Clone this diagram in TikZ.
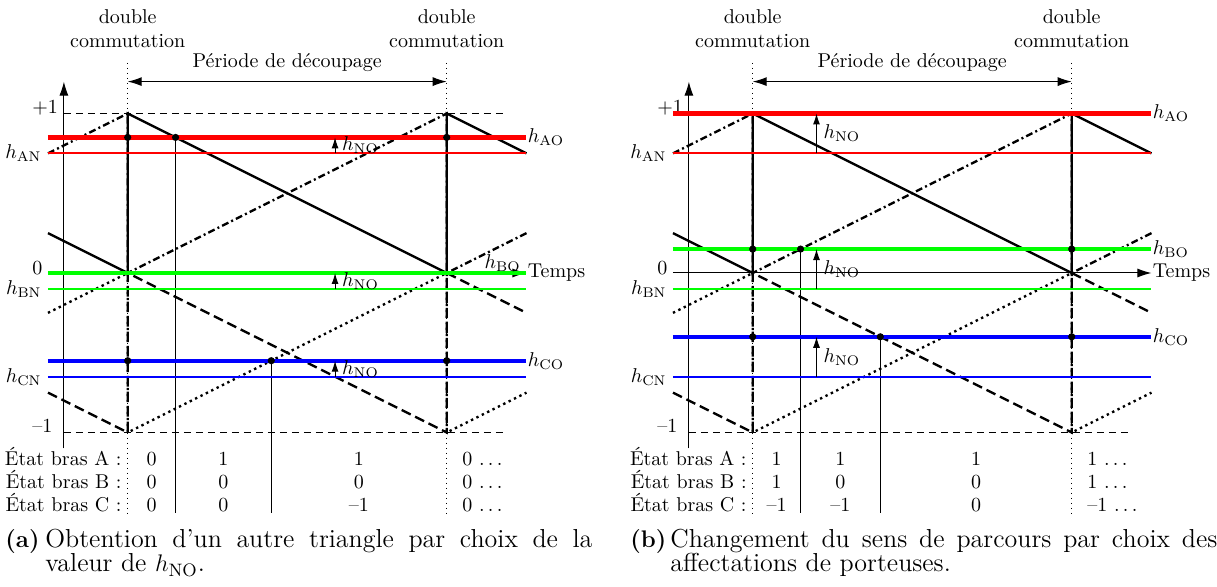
\documentclass[tikz,border=0pt]{standalone}
\usepackage{amsmath}
\usepackage{tikz}
\usetikzlibrary{arrows.meta, positioning}

\begin{document}
\begin{tikzpicture}[
	x=0.5pt, y=-0.5pt,
	font=\fontsize{10}{12}\selectfont,
	axe/.style={line width=0.5pt, -{Latex[length=7pt, width=4.5pt]}},
	periode/.style={line width=0.5pt, {Latex[length=7pt, width=4.5pt]}-{Latex[length=7pt, width=4.5pt]}},
	borne/.style={line width=0.5pt, dash pattern=on 3.5pt off 2.5pt},
	commut/.style={line width=0.5pt, dotted},
	trait_etat/.style={line width=0.5pt},
	porteuse/.style={line width=1.2pt},
	p_tiret/.style={porteuse, dash pattern=on 5pt off 2.5pt},
	p_mixte/.style={porteuse, dash pattern=on 3.5pt off 1.6pt on 1pt off 1.6pt},
	p_point/.style={porteuse, dash pattern=on 1.2pt off 1.8pt},
	niv_O/.style={line width=2.2pt},
	niv_N/.style={line width=1pt},
	hno/.style={line width=0.5pt, -{Latex[length=5.5pt, width=3.5pt]}},
	jonction/.style={circle, fill, inner sep=0pt, minimum size=3.6pt},
	lbl_g/.style={inner sep=3pt},
	lbl_d/.style={inner sep=0.5pt},
	graduation/.style={anchor=base west, inner sep=0pt},
	etat/.style={anchor=base east, inner sep=0pt},
	valeur/.style={anchor=base, inner sep=0pt},
	suite/.style={anchor=base west, inner sep=0pt},
	legende/.style={font=\fontsize{13}{15}\selectfont, anchor=base west, inner sep=0pt},
	sous_fig/.style={font=\fontsize{12}{14}\selectfont\bfseries, anchor=base west, inner sep=0pt}
	]
	\useasboundingbox (0,0) rectangle (1217,587);

	% ================= (a) =================
	\begin{scope}[shift={(127.7,273)}, x=159.5pt, y=79.75pt]
	% --- AXES ET BORNES ---
	\draw[axe] (-0.2,-1.1) -- (-0.2,1.2);
	\draw[axe] (-0.25,0) -- (1.25,0) coordinate (aT);
	\draw[borne] (-0.2,1) -- (1.175,1);
	\draw[borne] (-0.2,-1) -- (1.175,-1);
	\node[graduation] (aP) at (-0.3,1) {+1};
	\node[graduation] (aZ) at (-0.3,-0.0125) {0};
	\node[graduation] (aM) at (-0.3,-1) {--1};
	\node[lbl_d, right=0pt of aT] (aTemps) {Temps};

	% --- DOUBLES COMMUTATIONS ---
	\draw[commut] (0,1.317) -- (0,-1.505);
	\draw[commut] (1,1.317) -- (1,-1.505);
	\node[align=center, anchor=south, inner sep=0pt] (aDC1) at (0,1.413) {double\\commutation};
	\node[align=center, anchor=south, inner sep=0pt] (aDC2) at (1,1.413) {double\\commutation};
	\draw[periode] (0,1.2) -- (1,1.2);
	\node[anchor=base, inner sep=0pt] (aPer) at (0.5,1.29) {Période de découpage};

	% --- PORTEUSES ---
	\draw[porteuse] (-0.25,0.25) -- (0,0) -- (0,1) -- (1,0) -- (1,1) -- (1.25,0.75);
	\draw[p_mixte] (-0.25,0.75) -- (0,1) -- (0,0) -- (1,1) -- (1,0) -- (1.25,0.25);
	\draw[p_tiret] (-0.25,-0.75) -- (0,-1) -- (0,0) -- (1,-1) -- (1,0) -- (1.25,-0.25);
	\draw[p_point] (-0.25,-0.25) -- (0,0) -- (0,-1) -- (1,0) -- (1,-1) -- (1.25,-0.75);

	% --- COMMUTATIONS DES BRAS ---
	\coordinate (aI1) at (0,0.85); \coordinate (aI2) at (0.15,0.85); \coordinate (aI3) at (1,0.85);
	\coordinate (aI4) at (0,-0.55); \coordinate (aI5) at (0.45,-0.55); \coordinate (aI6) at (1,-0.55);
	\draw[trait_etat] (aI2) -- (0.15,-1.505);
	\draw[trait_etat] (aI5) -- (0.45,-1.505);

	% --- MODULANTES ---
	\draw[niv_O, red] (-0.25,0.85) -- (1.25,0.85) coordinate (aAO);
	\draw[niv_N, red] (-0.25,0.75) coordinate (aAN) -- (1.25,0.75);
	\draw[niv_O, green] (-0.25,0) -- (1.25,0) coordinate (aBO);
	\draw[niv_N, green] (-0.25,-0.1) coordinate (aBN) -- (1.25,-0.1);
	\draw[niv_O, blue] (-0.25,-0.55) -- (1.25,-0.55) coordinate (aCO);
	\draw[niv_N, blue] (-0.25,-0.65) coordinate (aCN) -- (1.25,-0.65);
	\node[lbl_d, right=0pt of aAO] (aLAO) {$h_{\mathrm{AO}}$};
	\node[lbl_g, left=0pt of aAN] (aLAN) {$h_{\mathrm{AN}}$};
	\node[lbl_d, anchor=south east] (aLBO) at (1.236,0) {$h_{\mathrm{BO}}$};
	\node[lbl_g, left=0pt of aBN] (aLBN) {$h_{\mathrm{BN}}$};
	\node[lbl_d, right=0pt of aCO] (aLCO) {$h_{\mathrm{CO}}$};
	\node[lbl_g, left=0pt of aCN] (aLCN) {$h_{\mathrm{CN}}$};
	\draw[hno] (0.65,0.75) -- node[right] (aNO1) {$h_{\mathrm{NO}}$} (0.65,0.85);
	\draw[hno] (0.65,-0.1) -- node[right] (aNO2) {$h_{\mathrm{NO}}$} (0.65,0);
	\draw[hno] (0.65,-0.65) -- node[right] (aNO3) {$h_{\mathrm{NO}}$} (0.65,-0.55);
	\foreach \i in {1,...,6} \node[jonction] (aD\i) at (aI\i) {};

	% --- ÉTATS DES BRAS ---
	\node[etat] (aEA) at (-0.018,-1.2056) {État bras A :};
	\node[etat] (aEB) at (-0.018,-1.3498) {État bras B :};
	\node[etat] (aEC) at (-0.018,-1.494) {État bras C :};
	\node[valeur] (aA1) at (0.075,-1.2056) {0}; \node[valeur] (aA2) at (0.3,-1.2056) {1};
	\node[valeur] (aA3) at (0.725,-1.2056) {1}; \node[suite] (aA4) at (1.048,-1.2056) {0 $\ldots$};
	\node[valeur] (aB1) at (0.075,-1.3498) {0}; \node[valeur] (aB2) at (0.3,-1.3498) {0};
	\node[valeur] (aB3) at (0.725,-1.3498) {0}; \node[suite] (aB4) at (1.048,-1.3498) {0 $\ldots$};
	\node[valeur] (aC1) at (0.075,-1.494) {0}; \node[valeur] (aC2) at (0.3,-1.494) {0};
	\node[valeur] (aC3) at (0.725,-1.494) {--1}; \node[suite] (aC4) at (1.048,-1.494) {0 $\ldots$};

	% --- LÉGENDE ---
	\node[sous_fig] (aCapL) at (-0.3846,-1.7179) {(a)};
	\node[legende] (aCap1) at (-0.2593,-1.7179) {\makebox[273.5pt][s]{Obtention d'un autre triangle par choix de la}};
	\node[legende] (aCap2) at (-0.2593,-1.8746) {valeur de $h_{\mathrm{NO}}$.};
	\end{scope}

	% ================= (b) =================
	\begin{scope}[shift={(752.7,273)}, x=159.5pt, y=79.75pt]
	% --- AXES ET BORNES ---
	\draw[axe] (-0.2,-1.1) -- (-0.2,1.2);
	\draw[axe] (-0.25,0) -- (1.25,0) coordinate (bT);
	\draw[borne] (-0.2,1) -- (1.175,1);
	\draw[borne] (-0.2,-1) -- (1.175,-1);
	\node[graduation] (bP) at (-0.3,1) {+1};
	\node[graduation] (bZ) at (-0.3,-0.0125) {0};
	\node[graduation] (bM) at (-0.3,-1) {--1};
	\node[lbl_d, right=0pt of bT] (bTemps) {Temps};

	% --- DOUBLES COMMUTATIONS ---
	\draw[commut] (0,1.317) -- (0,-1.505);
	\draw[commut] (1,1.317) -- (1,-1.505);
	\node[align=center, anchor=south, inner sep=0pt] (bDC1) at (0,1.413) {double\\commutation};
	\node[align=center, anchor=south, inner sep=0pt] (bDC2) at (1,1.413) {double\\commutation};
	\draw[periode] (0,1.2) -- (1,1.2);
	\node[anchor=base, inner sep=0pt] (bPer) at (0.5,1.29) {Période de découpage};

	% --- PORTEUSES ---
	\draw[porteuse] (-0.25,0.25) -- (0,0) -- (0,1) -- (1,0) -- (1,1) -- (1.25,0.75);
	\draw[p_mixte] (-0.25,0.75) -- (0,1) -- (0,0) -- (1,1) -- (1,0) -- (1.25,0.25);
	\draw[p_tiret] (-0.25,-0.75) -- (0,-1) -- (0,0) -- (1,-1) -- (1,0) -- (1.25,-0.25);
	\draw[p_point] (-0.25,-0.25) -- (0,0) -- (0,-1) -- (1,0) -- (1,-1) -- (1.25,-0.75);

	% --- COMMUTATIONS DES BRAS ---
	\coordinate (bI1) at (0,0.15); \coordinate (bI2) at (0.15,0.15); \coordinate (bI3) at (1,0.15);
	\coordinate (bI4) at (0,-0.4); \coordinate (bI5) at (0.4,-0.4); \coordinate (bI6) at (1,-0.4);
	\draw[trait_etat] (bI2) -- (0.15,-1.505);
	\draw[trait_etat] (bI5) -- (0.4,-1.505);

	% --- MODULANTES ---
	\draw[niv_O, red] (-0.25,1) -- (1.25,1) coordinate (bAO);
	\draw[niv_N, red] (-0.25,0.75) coordinate (bAN) -- (1.25,0.75);
	\draw[niv_O, green] (-0.25,0.15) -- (1.25,0.15) coordinate (bBO);
	\draw[niv_N, green] (-0.25,-0.1) coordinate (bBN) -- (1.25,-0.1);
	\draw[niv_O, blue] (-0.25,-0.4) -- (1.25,-0.4) coordinate (bCO);
	\draw[niv_N, blue] (-0.25,-0.65) coordinate (bCN) -- (1.25,-0.65);
	\node[lbl_d, right=0pt of bAO] (bLAO) {$h_{\mathrm{AO}}$};
	\node[lbl_g, left=0pt of bAN] (bLAN) {$h_{\mathrm{AN}}$};
	\node[lbl_d, right=0pt of bBO] (bLBO) {$h_{\mathrm{BO}}$};
	\node[lbl_g, left=0pt of bBN] (bLBN) {$h_{\mathrm{BN}}$};
	\node[lbl_d, right=0pt of bCO] (bLCO) {$h_{\mathrm{CO}}$};
	\node[lbl_g, left=0pt of bCN] (bLCN) {$h_{\mathrm{CN}}$};
	\draw[hno] (0.2,0.75) -- node[right] (bNO1) {$h_{\mathrm{NO}}$} (0.2,1);
	\draw[hno] (0.2,-0.1) -- node[right] (bNO2) {$h_{\mathrm{NO}}$} (0.2,0.15);
	\draw[hno] (0.2,-0.65) -- node[right] (bNO3) {$h_{\mathrm{NO}}$} (0.2,-0.4);
	\foreach \i in {1,...,6} \node[jonction] (bD\i) at (bI\i) {};

	% --- ÉTATS DES BRAS ---
	\node[etat] (bEA) at (-0.018,-1.2056) {État bras A :};
	\node[etat] (bEB) at (-0.018,-1.3498) {État bras B :};
	\node[etat] (bEC) at (-0.018,-1.494) {État bras C :};
	\node[valeur] (bA1) at (0.075,-1.2056) {1}; \node[valeur] (bA2) at (0.275,-1.2056) {1};
	\node[valeur] (bA3) at (0.7,-1.2056) {1}; \node[suite] (bA4) at (1.048,-1.2056) {1 $\ldots$};
	\node[valeur] (bB1) at (0.075,-1.3498) {1}; \node[valeur] (bB2) at (0.275,-1.3498) {0};
	\node[valeur] (bB3) at (0.7,-1.3498) {0}; \node[suite] (bB4) at (1.048,-1.3498) {1 $\ldots$};
	\node[valeur] (bC1) at (0.075,-1.494) {--1}; \node[valeur] (bC2) at (0.275,-1.494) {--1};
	\node[valeur] (bC3) at (0.7,-1.494) {0}; \node[suite] (bC4) at (1.048,-1.494) {--1 $\ldots$};

	% --- LÉGENDE ---
	\node[sous_fig] (bCapL) at (-0.3846,-1.7179) {(b)};
	\node[legende] (bCap1) at (-0.2593,-1.7179) {\makebox[273.5pt][s]{Changement du sens de parcours par choix des}};
	\node[legende] (bCap2) at (-0.2593,-1.8746) {affectations de porteuses.};
	\end{scope}
\end{tikzpicture}
\end{document}
